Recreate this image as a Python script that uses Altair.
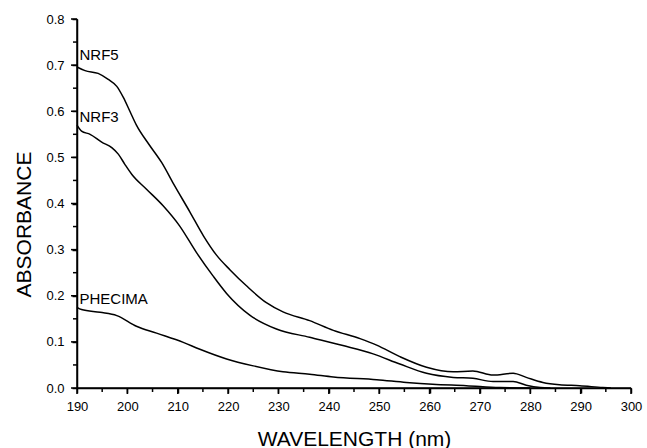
import altair as alt
import pandas as pd

# NRF5
nrf5_x = [190, 191.6, 194.2, 196.2, 197.9, 199.2, 200.5, 201.8, 204.3, 206.8, 209.2, 212.4, 215.1,
          217.7, 220.4, 223.7, 227.6, 230.9, 236.2, 240.9, 246.2, 249.5, 254.1, 259.4, 264.7,
          268.6, 272.6, 276.6, 279.2, 282.5, 285.8, 289.8, 294.4, 296]
nrf5_y = [0.696, 0.688, 0.682, 0.669, 0.654, 0.630, 0.600, 0.570, 0.528, 0.489, 0.442, 0.382, 0.330,
          0.288, 0.256, 0.221, 0.185, 0.165, 0.146, 0.125, 0.107, 0.093, 0.068, 0.045, 0.035,
          0.037, 0.028, 0.032, 0.023, 0.012, 0.007, 0.005, 0.001, 0.0]
# NRF3
nrf3_x = [190, 190.9, 192.6, 194.9, 196.9, 198.2, 199.5, 200.9, 203.8, 207.1, 210.4, 213.7, 217,
          219.7, 224.3, 229.6, 236.2, 242.8, 248.8, 254.1, 259.4, 264.7, 268.6, 272.6, 276.6,
          279.2, 282, 284]
nrf3_y = [0.570, 0.557, 0.550, 0.533, 0.521, 0.507, 0.485, 0.463, 0.431, 0.395, 0.351, 0.294, 0.243,
          0.205, 0.158, 0.128, 0.110, 0.092, 0.074, 0.052, 0.032, 0.023, 0.021, 0.014, 0.014,
          0.006, 0.001, 0.0]
# PHECIMA
phe_x = [190, 190.9, 194.6, 197.9, 201.8, 205.8, 211.1, 214.4, 219.7, 225, 230.9, 236.2, 240.9,
         249.5, 255.4, 260.6, 267.3, 273.9, 280]
phe_y = [0.175, 0.170, 0.164, 0.157, 0.134, 0.119, 0.099, 0.084, 0.063, 0.048, 0.035, 0.030, 0.024,
         0.018, 0.012, 0.008, 0.005, 0.001, 0.0]

label_text = ["NRF5", "NRF3", "PHECIMA"]
label_x = [190.5, 190.5, 190.5]
label_y = [0.722, 0.588, 0.192]

x_ticks = list(range(190, 301, 5))
y_ticks = [round(i * 0.05, 2) for i in range(0, 17)]

rows = []
for name, xs, ys in [("NRF5", nrf5_x, nrf5_y), ("NRF3", nrf3_x, nrf3_y), ("PHECIMA", phe_x, phe_y)]:
    for a, b in zip(xs, ys):
        rows.append({"series": name, "wl": a, "abs": b})
df = pd.DataFrame(rows)
lab = pd.DataFrame({"t": label_text, "wl": label_x, "abs": label_y})
xt = pd.DataFrame({"wl": x_ticks, "major": [v % 10 == 0 for v in x_ticks]})
yt = pd.DataFrame({"abs": y_ticks, "major": [round(v * 100) % 10 == 0 for v in y_ticks]})

FONT = "Liberation Sans"
W = 554
H = 369

xscale = alt.Scale(domain=[190, 300], nice=False, zero=False)
yscale = alt.Scale(domain=[0, 0.8], nice=False)

xaxis = alt.Axis(
    values=x_ticks,
    labelExpr="datum.value % 10 == 0 ? datum.label : ''",
    format="d", labelFlush=False, labelOverlap=False,
    grid=False, domainColor="black", domainWidth=1.5,
    ticks=True, tickColor="black", tickWidth=1.5, tickSize=5,
    labelFont=FONT, labelFontSize=13, labelColor="black", labelPadding=7,
    title="WAVELENGTH (nm)", titleFont=FONT, titleFontSize=21, titleFontWeight="normal",
    titleColor="black", titleBaseline="alphabetic", titleY=57,
)
yaxis = alt.Axis(
    values=y_ticks,
    labelExpr="round(datum.value * 100) % 10 == 0 ? format(datum.value, '.1f') : ''",
    labelFlush=False, labelOverlap=False,
    grid=False, domainColor="black", domainWidth=1.5,
    ticks=True, tickColor="black", tickWidth=1.5, tickSize=5,
    labelFont=FONT, labelFontSize=13, labelColor="black", labelPadding=8,
    title="ABSORBANCE", titleFont=FONT, titleFontSize=21, titleFontWeight="normal",
    titleColor="black", titleBaseline="alphabetic", titleX=-47, titleY=205, titleAngle=270,
)

lines = alt.Chart(df).mark_line(color="black", strokeWidth=1.5, interpolate="monotone").encode(
    x=alt.X("wl:Q", scale=xscale, axis=xaxis),
    y=alt.Y("abs:Q", scale=yscale, axis=yaxis),
    detail="series:N",
)

texts = alt.Chart(lab).mark_text(align="left", baseline="middle", font=FONT, fontSize=15, color="black").encode(
    x=alt.X("wl:Q", scale=xscale),
    y=alt.Y("abs:Q", scale=yscale),
    text="t:N",
)

xmaj = alt.Chart(xt).transform_filter("datum.major").mark_rule(color="black", strokeWidth=1.5).encode(
    x=alt.X("wl:Q", scale=xscale), y=alt.value(H), y2=alt.value(H + 6))
xmin = alt.Chart(xt).transform_filter("!datum.major").mark_rule(color="black", strokeWidth=1.5).encode(
    x=alt.X("wl:Q", scale=xscale), y=alt.value(H), y2=alt.value(H + 4))
ymaj = alt.Chart(yt).transform_filter("datum.major").mark_rule(color="black", strokeWidth=1.5).encode(
    y=alt.Y("abs:Q", scale=yscale), x=alt.value(-6), x2=alt.value(0))
ymin = alt.Chart(yt).transform_filter("!datum.major").mark_rule(color="black", strokeWidth=1.5).encode(
    y=alt.Y("abs:Q", scale=yscale), x=alt.value(-4), x2=alt.value(0))

# axis lines (left and bottom frame)
left_line = alt.Chart(lab).transform_filter("datum.t == 'NRF5'").mark_rule(color="black", strokeWidth=1.5).encode(
    x=alt.value(0), y=alt.value(0), y2=alt.value(H))
bottom_line = alt.Chart(lab).transform_filter("datum.t == 'NRF5'").mark_rule(color="black", strokeWidth=1.5).encode(
    y=alt.value(H), x=alt.value(0), x2=alt.value(W))

chart = alt.layer(lines, texts, xmaj, xmin, ymaj, ymin, left_line, bottom_line).properties(
    width=W, height=H,
    autosize=alt.AutoSizeParams(type="none"),
    padding={"left": 77, "top": 19, "right": 16, "bottom": 60},
).configure_view(stroke=None)

chart.save("out.html", embed_options={"renderer": "svg", "actions": False})
